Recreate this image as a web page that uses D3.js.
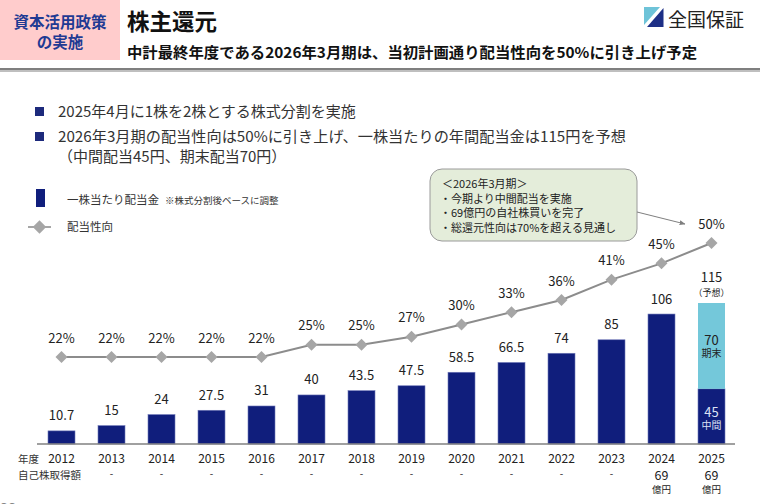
<!DOCTYPE html>
<html><head><meta charset="utf-8">
<script src="https://cdn.jsdelivr.net/npm/d3@7/dist/d3.min.js"></script>
<style>
html,body{margin:0;padding:0;background:#fff;}
svg{display:block;font-family:"Noto Sans CJK JP","Noto Sans",sans-serif;}
</style></head>
<body><svg id="c" width="760" height="504"></svg>
<script>
// ---- data ----
const years = ["2012","2013","2014","2015","2016","2017","2018","2019","2020","2021","2022","2023","2024","2025"];
const divMain = [10.7,15,24,27.5,31,40,43.5,47.5,58.5,66.5,74,85,106,45];   // navy (2025: interim)
const divFinal = [0,0,0,0,0,0,0,0,0,0,0,0,0,70];                           // light blue (2025: year-end)
const payout = [22,22,22,22,22,25,25,27,30,33,36,41,45,50];
const buyback = ["","-","-","-","-","-","-","-","-","-","-","-","69","69"];
const bullets = ["2025年4月に1株を2株とする株式分割を実施","2026年3月期の配当性向は50%に引き上げ、一株当たりの年間配当金は115円を予想","（中間配当45円、期末配当70円）"];
const callout = ["＜2026年3月期＞","・今期より中間配当を実施","・69億円の自社株買いを完了","・総還元性向は70%を超える見通し"];

const svg = d3.select("#c");
const navy = "#101E7C", light = "#74C8DA";

// ---- header ----
svg.append("rect").attr("x",0).attr("y",0).attr("width",120).attr("height",60).attr("fill","#FFCCCC");
svg.append("text").attr("x",60).attr("y",28).attr("text-anchor","middle").attr("font-size",15.5).attr("font-weight","bold").attr("fill","#1F3A93").text("資本活用政策");
svg.append("text").attr("x",60).attr("y",48).attr("text-anchor","middle").attr("font-size",15.5).attr("font-weight","bold").attr("fill","#1F3A93").text("の実施");
svg.append("text").attr("x",127).attr("y",30).attr("font-size",22.5).attr("font-weight","bold").attr("fill","#111").text("株主還元");
svg.append("text").attr("x",127).attr("y",58).attr("font-size",15).attr("font-weight","bold").attr("fill","#111")
  .attr("textLength",570).attr("lengthAdjust","spacingAndGlyphs")
  .text("中計最終年度である2026年3月期は、当初計画通り配当性向を50%に引き上げ予定");
svg.append("rect").attr("x",0).attr("y",68).attr("width",760).attr("height",2).attr("fill","#7F7F7F");
svg.append("rect").attr("x",0).attr("y",70).attr("width",760).attr("height",2).attr("fill","#BFBFBF");
// logo
svg.append("path").attr("d","M644,7 L660,7 L644,25 Z").attr("fill","#6EC3D8");
svg.append("path").attr("d","M663.5,8 L663.5,27 L647,27 Z").attr("fill","#1D2F86");
svg.append("text").attr("x",668).attr("y",27).attr("font-size",19).attr("fill","#222").text("全国保証");

// ---- bullets ----
[112,137].forEach(yv=>{
  svg.append("rect").attr("x",35).attr("y",yv-5).attr("width",9).attr("height",9).attr("fill","#1D2A7C");
});
svg.append("text").attr("x",58).attr("y",117).attr("font-size",15).attr("fill","#333").text(bullets[0]);
svg.append("text").attr("x",58).attr("y",142).attr("font-size",15).attr("fill","#333").attr("textLength",568).attr("lengthAdjust","spacingAndGlyphs").text(bullets[1]);
svg.append("text").attr("x",58).attr("y",162).attr("font-size",15).attr("fill","#333").text(bullets[2]);

// ---- legend ----
svg.append("rect").attr("x",36).attr("y",189).attr("width",9).attr("height",18).attr("fill",navy);
svg.append("text").attr("x",67).attr("y",204).attr("font-size",11.5).attr("fill","#333").text("一株当たり配当金");
svg.append("text").attr("x",165).attr("y",204).attr("font-size",9.5).attr("fill","#333").text("※株式分割後ベースに調整");
svg.append("line").attr("x1",28).attr("x2",51).attr("y1",227).attr("y2",227).attr("stroke","#A6A6A6").attr("stroke-width",2);
svg.append("path").attr("d",d3.symbol(d3.symbolSquare,90)()).attr("transform","translate(39.5,227) rotate(45)").attr("fill","#A6A6A6");
svg.append("text").attr("x",67).attr("y",231).attr("font-size",11.5).attr("fill","#333").text("配当性向");

// ---- scales ----
const x = d3.scaleBand().domain(years).range([36.5,736.5]).paddingInner(0.46).paddingOuter(0.23);
const y = d3.scaleLinear().domain([0,115]).range([444,303]);
const yp = d3.scaleLinear().domain([0,50]).range([446.6,243]);

const rows = years.map((yr,i)=>({year:yr, main:divMain[i], fin:divFinal[i]}));
const stack = d3.stack().keys(["main","fin"])(rows);
const colors = {main:navy, fin:light};

stack.forEach(layer=>{
  svg.append("g").selectAll("rect").data(layer.filter(d=>d[1]-d[0]>0)).join("rect")
    .attr("x",d=>x(d.data.year)).attr("width",x.bandwidth())
    .attr("y",d=>y(d[1])).attr("height",d=>y(d[0])-y(d[1]))
    .attr("fill",colors[layer.key]).attr("stroke", layer.key==="main"?"#6F78B8":"none").attr("stroke-width",0.6);
});

// axis baseline
svg.append("line").attr("x1",37).attr("x2",735).attr("y1",444).attr("y2",444).attr("stroke","#808080").attr("stroke-width",1.3);

// bar value labels
const fmt = d => String(d);
svg.append("g").selectAll("text").data(rows.slice(0,13)).join("text")
  .attr("x",d=>x(d.year)+x.bandwidth()/2).attr("y",d=>y(d.main)-10.5)
  .attr("text-anchor","middle").attr("font-size",13).attr("fill","#222").text(d=>fmt(d.main));
// 2025 labels
const last = rows[13], cx = x(last.year)+x.bandwidth()/2;
svg.append("text").attr("x",cx).attr("y",y(last.main+last.fin)-21).attr("text-anchor","middle").attr("font-size",13).attr("fill","#222").text(fmt(last.main+last.fin));
svg.append("text").attr("x",cx).attr("y",y(last.main+last.fin)-7).attr("text-anchor","middle").attr("font-size",9).attr("fill","#222").text("（予想）");
svg.append("text").attr("x",cx).attr("y",y(last.main+last.fin/2)-1).attr("text-anchor","middle").attr("font-size",13).attr("fill","#222").text(fmt(last.fin));
svg.append("text").attr("x",cx).attr("y",y(last.main+last.fin/2)+11.5).attr("text-anchor","middle").attr("font-size",10).attr("fill","#222").text("期末");
svg.append("text").attr("x",cx).attr("y",y(last.main/2)+0.5).attr("text-anchor","middle").attr("font-size",13).attr("fill","#DDE2F5").text(fmt(last.main));
svg.append("text").attr("x",cx).attr("y",y(last.main/2)+13).attr("text-anchor","middle").attr("font-size",10).attr("fill","#DDE2F5").text("中間");

// payout line
const pts = years.map((yr,i)=>({year:yr,v:payout[i]}));
svg.append("path").datum(pts)
  .attr("d",d3.line().x(d=>x(d.year)+x.bandwidth()/2).y(d=>yp(d.v)))
  .attr("fill","none").attr("stroke","#8C8C8C").attr("stroke-width",2);
svg.append("g").selectAll("path").data(pts).join("path")
  .attr("d",d3.symbol(d3.symbolSquare,72)())
  .attr("transform",d=>`translate(${x(d.year)+x.bandwidth()/2},${yp(d.v)}) rotate(45)`)
  .attr("fill","#A6A6A6");
svg.append("g").selectAll("text").data(pts).join("text")
  .attr("x",d=>x(d.year)+x.bandwidth()/2).attr("y",d=>yp(d.v)-14.5)
  .attr("text-anchor","middle").attr("font-size",13).attr("fill","#222").text(d=>d.v+"%");

// x labels
svg.append("text").attr("x",18).attr("y",462.5).attr("font-size",10.5).attr("fill","#333").text("年度");
svg.append("text").attr("x",18).attr("y",479).attr("font-size",10.5).attr("fill","#333").text("自己株取得額");
svg.append("g").selectAll("text").data(years).join("text")
  .attr("x",d=>x(d)+x.bandwidth()/2).attr("y",462.5).attr("text-anchor","middle").attr("font-size",12).attr("fill","#222").text(d=>d);
svg.append("g").selectAll("text").data(years.map((yr,i)=>({yr,b:buyback[i]})).filter(d=>d.b!=="")).join("text")
  .attr("x",d=>x(d.yr)+x.bandwidth()/2).attr("y",d=>d.b==="-"?476.5:479.5).attr("text-anchor","middle")
  .attr("font-size",d=>d.b==="-"?10:12.5).attr("fill","#222").text(d=>d.b);
svg.append("g").selectAll("text").data(years.filter((yr,i)=>buyback[i]!=="-"&&buyback[i]!=="")).join("text")
  .attr("x",d=>x(d)+x.bandwidth()/2).attr("y",492.5).attr("text-anchor","middle").attr("font-size",9.5).attr("fill","#222").text("億円");

// callout
svg.append("rect").attr("x",430).attr("y",169).attr("width",207).attr("height",72).attr("rx",12)
  .attr("fill","#E4EDDA").attr("stroke","#9A9A9A").attr("stroke-width",1);
callout.forEach((t,i)=>{
  svg.append("text").attr("x",i===0?442:440).attr("y",188+i*14.5).attr("font-size",11).attr("fill","#222").text(t);
});
svg.append("defs").append("marker").attr("id","ah").attr("viewBox","0 0 10 10").attr("refX",9).attr("refY",5)
  .attr("markerWidth",6).attr("markerHeight",6).attr("orient","auto")
  .append("path").attr("d","M0,1 L10,5 L0,9 Z").attr("fill","#7F7F7F");
svg.append("line").attr("x1",637).attr("y1",212).attr("x2",685).attr("y2",224).attr("stroke","#7F7F7F").attr("stroke-width",1).attr("marker-end","url(#ah)");

// page number (cut off at the bottom edge, as in the reference)
svg.append("text").attr("x",0).attr("y",514).attr("font-size",15).attr("fill","#888").text("22");
</script></body></html>
